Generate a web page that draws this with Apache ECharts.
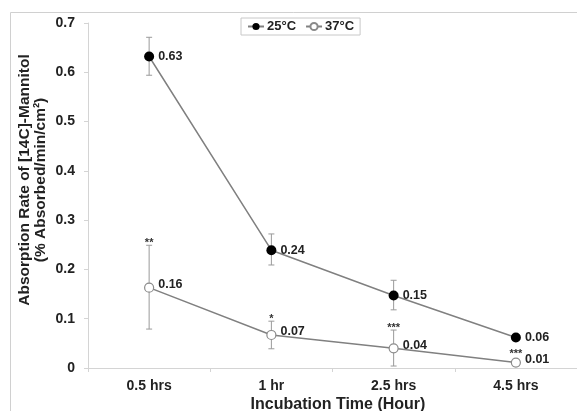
<!DOCTYPE html>
<html><head><meta charset="utf-8">
<script src="https://cdn.jsdelivr.net/npm/echarts@6/dist/echarts.min.js"></script>
<style>html,body{margin:0;padding:0;background:#fff}#c{width:577px;height:411px}</style>
</head><body><div id="c"></div>
<script>
const categories = ['0.5 hrs', '1 hr', '2.5 hrs', '4.5 hrs'];
const seriesNames = ['25°C', '37°C'];
const values25 = [0.632, 0.239, 0.147, 0.062];
const values37 = [0.163, 0.067, 0.040, 0.011];
const labels25 = ['0.63', '0.24', '0.15', '0.06'];
const labels37 = ['0.16', '0.07', '0.04', '0.01'];
const errLow25 = [0.594, 0.209, 0.118, 0.062];
const errHigh25 = [0.671, 0.272, 0.178, 0.062];
const errLow37 = [0.079, 0.039, 0.004, 0.011];
const errHigh37 = [0.249, 0.095, 0.077, 0.011];
const sig37 = ['**', '*', '***', '***'];
const yTicks = [0, 0.1, 0.2, 0.3, 0.4, 0.5, 0.6, 0.7];

const FONT = 'Liberation Sans, Arial, sans-serif';
const chart = echarts.init(document.getElementById('c'), null, {renderer: 'canvas'});

function errSeries(low, high, marks) {
  return {
    type: 'custom',
    silent: true,
    z: 1,
    data: categories.map((c, i) => [i, low[i], high[i], marks ? marks[i] : '']),
    renderItem: function (params, api) {
      const i = api.value(0);
      const lo = api.coord([i, api.value(1)]);
      const hi = api.coord([i, api.value(2)]);
      const x = lo[0];
      const w = 3;
      const children = [];
      const hasBar = Math.abs(lo[1] - hi[1]) > 1;
      if (hasBar) {
        const st = {stroke: '#9a9a9a', lineWidth: 1};
        children.push({type: 'line', shape: {x1: x, y1: hi[1], x2: x, y2: lo[1]}, style: st});
        children.push({type: 'line', shape: {x1: x - w, y1: hi[1], x2: x + w, y2: hi[1]}, style: st});
        children.push({type: 'line', shape: {x1: x - w, y1: lo[1], x2: x + w, y2: lo[1]}, style: st});
      }
      const m = api.value(3);
      if (m) {
        children.push({type: 'text', style: {text: m, x: x, y: hi[1] + (hasBar ? 3 : -3), align: 'center', verticalAlign: 'bottom', font: 'bold 11px ' + FONT, fill: '#333'}});
      }
      return {type: 'group', children: children};
    }
  };
}

const option = {
  animation: false,
  backgroundColor: '#fff',
  textStyle: {fontFamily: FONT},
  grid: {left: 88, right: -3, top: 23, bottom: 43, containLabel: false},
  legend: {
    left: 241, top: 18,
    data: seriesNames,
    backgroundColor: '#fff',
    borderColor: '#c8c8c8', borderWidth: 1,
    padding: [2, 6, 2, 6],
    itemGap: 9, itemWidth: 16, itemHeight: 9,
    textStyle: {fontFamily: FONT, fontWeight: 'bold', fontSize: 13, color: '#222', padding: [0, 0, 0, -2]}
  },
  xAxis: {
    type: 'category',
    data: categories,
    boundaryGap: true,
    axisLine: {lineStyle: {color: '#d4d4d4', width: 1}},
    axisTick: {show: true, length: 4, lineStyle: {color: '#d4d4d4'}},
    axisLabel: {fontFamily: FONT, fontWeight: 'bold', fontSize: 14, color: '#222', margin: 11}
  },
  yAxis: {
    type: 'value', min: 0, max: 0.7, interval: 0.1,
    axisLine: {show: true, lineStyle: {color: '#d4d4d4', width: 1}},
    axisTick: {show: true, length: 4, lineStyle: {color: '#d4d4d4'}},
    splitLine: {show: false},
    axisLabel: {fontFamily: FONT, fontWeight: 'bold', fontSize: 14, color: '#222', margin: 13,
      formatter: v => (yTicks.includes(Math.round(v * 10) / 10) ? String(Math.round(v * 10) / 10) : '')}
  },
  graphic: [
    {type: 'line', shape: {x1: 10.5, y1: 12.5, x2: 577, y2: 12.5}, style: {stroke: '#d0d0d0', lineWidth: 1}, silent: true},
    {type: 'line', shape: {x1: 10.5, y1: 12.5, x2: 10.5, y2: 411}, style: {stroke: '#d0d0d0', lineWidth: 1}, silent: true},
    {type: 'text', x: 33, y: 180, rotation: Math.PI / 2,
      style: {text: 'Absorption Rate of [14C]-Mannitol\n(% Absorbed/min/cm²)', align: 'center', verticalAlign: 'middle',
        font: 'bold 15.5px ' + FONT, lineHeight: 16, fill: '#222'}},
    {type: 'text', x: 338, y: 405,
      style: {text: 'Incubation Time (Hour)', align: 'center', verticalAlign: 'middle', font: 'bold 16px ' + FONT, fill: '#222'}}
  ],
  series: [
    errSeries(errLow25, errHigh25, null),
    errSeries(errLow37, errHigh37, sig37),
    {
      name: seriesNames[0], type: 'line', data: values25, z: 3,
      symbol: 'circle', symbolSize: 10,
      lineStyle: {color: '#808080', width: 1.5},
      itemStyle: {color: '#000', borderColor: '#000', borderWidth: 0},
      label: {show: true, position: 'right', distance: 4, formatter: p => labels25[p.dataIndex],
        fontFamily: FONT, fontWeight: 'bold', fontSize: 12.5, color: '#222'}
    },
    {
      name: seriesNames[1], type: 'line', data: values37, z: 3,
      symbol: 'circle', symbolSize: 9,
      lineStyle: {color: '#808080', width: 1.5},
      itemStyle: {color: '#fff', borderColor: '#8a8a8a', borderWidth: 1.2},
      label: {show: true, position: 'right', distance: 4, offset: [0, -3], formatter: p => labels37[p.dataIndex],
        fontFamily: FONT, fontWeight: 'bold', fontSize: 12.5, color: '#222'}
    }
  ]
};
chart.setOption(option);
</script></body></html>
